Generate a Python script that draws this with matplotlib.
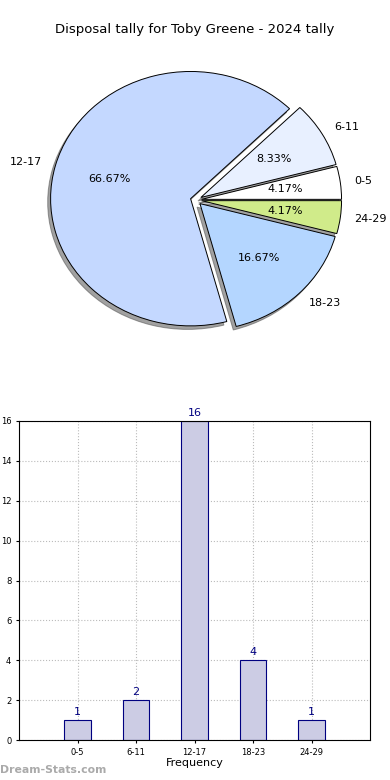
import matplotlib
matplotlib.use("Agg")
import matplotlib.pyplot as plt

categories = ["0-5", "6-11", "12-17", "18-23", "24-29"]
counts = [1, 2, 16, 4, 1]
pie_colors = ["#ffffff", "#e8f0ff", "#c4d8ff", "#b4d6ff", "#d0eb8a"]
title = "Disposal tally for Toby Greene - 2024 tally"

fig = plt.figure(figsize=(3.9, 7.8), dpi=100)
fig.patch.set_facecolor("white")

# Pie
axp = fig.add_axes([21/390, (780-359)/780, 350/390, 318/780])
wedges, texts, autotexts = axp.pie(
    counts, labels=categories, colors=pie_colors, autopct="%1.2f%%",
    explode=[0.04]*len(counts),
    shadow={"ox": -0.015, "oy": -0.02, "facecolor": "#444444", "edgecolor": "#444444"},
    startangle=0, counterclock=True,
    pctdistance=0.6, labeldistance=1.1,
    wedgeprops=dict(edgecolor="black", linewidth=0.7),
    textprops=dict(fontsize=8))
axp.set_aspect("auto")
axp.set_xlim(-1.25, 1.25)
axp.set_ylim(-1.25, 1.25)
fig.text(0.5, 1 - 30/780, title, ha="center", va="center", fontsize=9.5)

# Bars
axb = fig.add_axes([19/390, 40/780, 351/390, 319/780])
x = list(range(len(categories)))
axb.bar(x, counts, width=0.45, color="#ccccE4", edgecolor="#000080", linewidth=0.8, zorder=2)
for xi, c in zip(x, counts):
    axb.text(xi, c + 0.15, str(c), ha="center", va="bottom", color="#000080", fontsize=8)
axb.set_xlim(-1, 5)
axb.set_ylim(0, 16)
axb.set_xticks(x)
axb.set_xticklabels(categories, fontsize=6)
axb.set_yticks(range(0, 17, 2))
axb.tick_params(axis="y", labelsize=6, length=2)
axb.tick_params(axis="x", length=2)
axb.grid(True, linestyle=":", color="#bbbbbb", linewidth=0.8, zorder=0)
axb.set_axisbelow(True)
axb.set_xlabel("Frequency", fontsize=8, labelpad=1)
axb.set_ylabel("Disposal tally", fontsize=8, labelpad=4)

fig.text(0.0, 1 - 770/780, "Dream-Stats.com", color="#aaaaaa", fontsize=7.8,
         fontweight="bold", ha="left", va="center")

fig.savefig("out.png", dpi=100)
